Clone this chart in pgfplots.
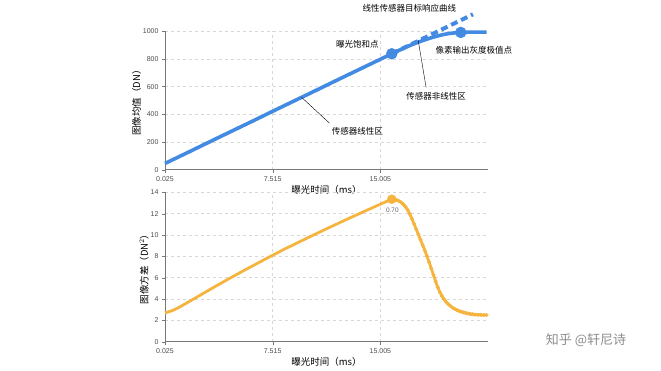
\documentclass[border=0pt]{standalone}
\usepackage{pgfplots}
\pgfplotsset{compat=1.18}
\usepackage{fontspec}
\setmainfont{Liberation Sans}
\newfontfamily\cjk{Noto Sans CJK SC}
\definecolor{lblue}{RGB}{66,138,226}
\definecolor{lorange}{RGB}{245,180,62}
\definecolor{gridc}{RGB}{215,215,215}
\definecolor{axc}{RGB}{120,120,120}
\pgfplotsset{
  myax/.style={
    scale only axis, width=323pt,
    xmin=0.025, xmax=22.495,
    axis lines=left, axis line style={axc,-},
    xtick={0.025,7.515,15.005}, xticklabels={0.025,7.515,15.005},
    tick style={axc}, tick align=outside, major tick length=3pt,
    grid=major, major grid style={gridc,dashed},
    tick label style={font=\fontsize{7}{8}\selectfont, text=black!70},
    /pgf/number format/assume math mode=true,
    /pgf/number format/1000 sep={},
    label style={font=\cjk\fontsize{9.5}{11}\selectfont},
    clip=false,
  }
}
\begin{document}
\begin{tikzpicture}
\useasboundingbox (0,0) rectangle (661pt,371pt);
% top axis
\begin{axis}[myax, at={(165pt,201.3pt)}, anchor=south west, height=138.5pt,
  ymin=0, ymax=1000, ytick={0,200,400,600,800,1000},
  xlabel={曝光时间（ms）}, ylabel={图像均值（DN）},
  xlabel style={yshift=3pt}, ylabel style={yshift=-5pt}]
\addplot[lblue, line width=4pt, dash pattern=on 7pt off 4pt] coordinates {(15.8,837) (21.45,1122)};
\addplot[lblue, line width=3.6pt, smooth] coordinates {
(0.025,45) (2,144) (4,245) (6,345) (8,446) (10,546) (12,647) (14,747) (15.8,837)
(16.5,871) (17.0,894) (17.5,915) (18.0,934) (18.5,951) (19.0,966) (19.5,978) (20.0,986) (20.6,991) (21.2,993) (22.4,993)};
\addplot[lblue, only marks, mark=*, mark size=5.5pt] coordinates {(15.8,837) (20.6,991)};
\draw[black, thin] (axis cs:9.53,522) -- (axis cs:11.47,336);
\draw[black, thin] (axis cs:17.64,933) -- (axis cs:18.19,594);
\node[font=\cjk\fontsize{8.5}{10}\selectfont] at (axis cs:17.02,1163) {线性传感器目标响应曲线};
\node[font=\cjk\fontsize{8.5}{10}\selectfont] at (axis cs:13.41,904) {曝光饱和点};
\node[font=\cjk\fontsize{8.5}{10}\selectfont, anchor=west] at (axis cs:18.61,861) {像素输出灰度极值点};
\node[font=\cjk\fontsize{8.5}{10}\selectfont] at (axis cs:18.89,530) {传感器非线性区};
\node[font=\cjk\fontsize{8.5}{10}\selectfont] at (axis cs:13.41,278) {传感器线性区};
\end{axis}
% bottom axis
\begin{axis}[myax, at={(165pt,29.3pt)}, anchor=south west, height=149.4pt,
  ymin=0, ymax=14, ytick={0,2,4,6,8,10,12,14},
  xlabel={曝光时间（ms）}, ylabel={图像方差（DN$^2$）},
  xlabel style={yshift=3pt}, ylabel style={yshift=-5pt}]
\addplot[lorange, line width=2.8pt, smooth] coordinates {
(0.025,2.70) (0.5,2.90) (1,3.22) (1.5,3.60) (2,3.99) (2.5,4.38) (3,4.77) (3.5,5.16) (4,5.54) (4.5,5.92)
(5,6.29) (5.5,6.66) (6,7.02) (6.5,7.38) (7,7.74) (7.5,8.09) (8,8.44) (8.5,8.78) (9,9.11) (9.5,9.44)
(10,9.77) (10.5,10.09) (11,10.41) (11.5,10.73) (12,11.04) (12.5,11.36) (13,11.67) (13.5,11.97) (14,12.28)
(14.5,12.58) (15,12.88) (15.4,13.12) (15.8,13.32) (16.0,13.30) (16.3,13.18) (16.6,12.88) (16.9,12.35)
(17.2,11.52) (17.5,10.55) (17.8,9.55) (18.1,8.55) (18.4,7.45) (18.7,6.25) (19.0,5.10) (19.3,4.25)
(19.6,3.70) (19.9,3.33) (20.2,3.05) (20.5,2.87) (20.8,2.74) (21.1,2.64) (21.4,2.57) (21.8,2.52) (22.4,2.50)};
\addplot[lorange, only marks, mark=*, mark size=1.8pt] coordinates {
(16.0,13.30) (16.15,13.27) (16.3,13.18) (16.45,13.05) (16.6,12.88) (16.75,12.65) (16.9,12.35) (17.05,11.97)
(17.2,11.52) (17.35,11.05) (17.5,10.55) (17.65,10.05) (17.8,9.55) (17.95,9.05) (18.1,8.55) (18.25,8.02)
(18.4,7.45) (18.55,6.85) (18.7,6.25) (18.85,5.65) (19.0,5.10) (19.15,4.62) (19.3,4.25) (19.45,3.95)
(19.6,3.70) (19.75,3.50) (19.9,3.33) (20.05,3.18) (20.2,3.05) (20.35,2.95) (20.5,2.87) (20.65,2.80)
(20.8,2.74) (20.95,2.69) (21.1,2.64) (21.25,2.60) (21.4,2.57) (21.6,2.54) (21.8,2.52) (22.0,2.51) (22.2,2.50) (22.4,2.50)};
\addplot[lorange, only marks, mark=*, mark size=4.5pt] coordinates {(15.8,13.35)};
\node[font=\fontsize{6.5}{7}\selectfont, text=black!60] at (axis cs:15.84,12.34) {0.70};
\end{axis}
\node[font=\cjk\fontsize{13}{15}\selectfont, text=black!45] at (586pt,31pt) {知乎 @轩尼诗};
\end{tikzpicture}
\end{document}
